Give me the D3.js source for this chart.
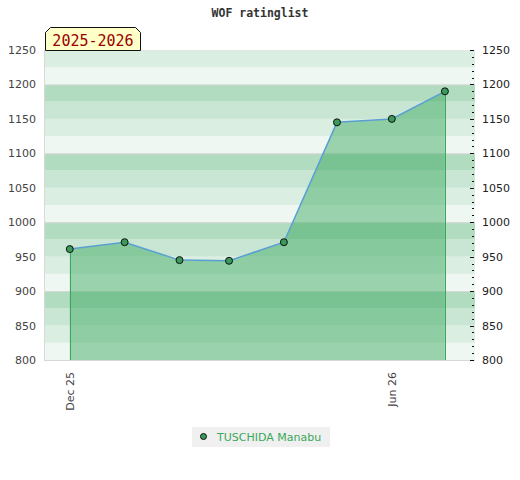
<!DOCTYPE html>
<html><head><meta charset="utf-8">
<script src="https://cdn.jsdelivr.net/npm/d3@7"></script>
<style>body{margin:0;background:#fff}svg{display:block}</style>
</head><body>
<svg id="c" width="520" height="480"></svg>
<script>
const title = "WOF ratinglist";
const seasonLabel = "2025-2026";
const playerName = "TUSCHIDA Manabu";
const dates = ["2025-12-01","2026-01-01","2026-02-01","2026-03-01","2026-04-01","2026-05-01","2026-06-01","2026-07-01"];
const ratings = [961, 971, 945, 944, 971, 1145, 1150, 1190];
const yTicks = [800, 850, 900, 950, 1000, 1050, 1100, 1150, 1200, 1250];
const xTickDates = ["2025-12-01", "2026-06-01"];
const xTickLabels = ["Dec 25", "Jun 26"];

const parse = d3.utcParse("%Y-%m-%d");
const data = dates.map((d, i) => ({date: parse(d), value: ratings[i]}));

const svg = d3.select("#c");
const L = 45, R = 475, T = 50, B = 360;
const x = d3.scaleUtc().domain([parse("2025-11-17"), parse("2026-07-18")]).range([L, R]);
const y = d3.scaleLinear().domain([800, 1250]).range([B, T]);

// bands
const bandColors = ["#b1dcbf", "#c8e6d3", "#daeee2", "#eff7f3"];
const bands = d3.range(800, 1250, 25);
svg.append("g").selectAll("rect").data(bands).join("rect")
  .attr("x", L).attr("width", R - L)
  .attr("y", d => y(d + 25)).attr("height", d => y(d) - y(d + 25))
  .attr("fill", d => {
    const k = ((d + 25) % 100);
    const idx = k === 0 ? 0 : k === 75 ? 1 : k === 50 ? 2 : 3;
    return bandColors[idx];
  });
svg.append("g").selectAll("line").data([900, 1000, 1100, 1200]).join("line")
  .attr("x1", L).attr("x2", R).attr("y1", d => y(d) + 0.5).attr("y2", d => y(d) + 0.5)
  .attr("stroke", "#d8d8d8").attr("stroke-width", 1);

// area
const area = d3.area().x(d => x(d.date)).y0(B).y1(d => y(d.value));
svg.append("path").datum(data).attr("d", area).attr("fill", "rgba(48,165,86,0.44)");
const ends = [data[0], data[data.length - 1]];
svg.append("g").selectAll("line").data(ends).join("line")
  .attr("x1", d => Math.round(x(d.date)) + 0.5).attr("x2", d => Math.round(x(d.date)) + 0.5)
  .attr("y1", d => y(d.value)).attr("y2", B)
  .attr("stroke", "#3aa85a").attr("stroke-width", 1);
const line = d3.line().x(d => x(d.date)).y(d => y(d.value));
svg.append("path").datum(data).attr("d", line).attr("fill", "none")
  .attr("stroke", "#5a9fd4").attr("stroke-width", 1.5);
svg.append("g").selectAll("circle").data(data).join("circle")
  .attr("cx", d => x(d.date)).attr("cy", d => y(d.value)).attr("r", 3.5)
  .attr("fill", "#3a9a5a").attr("stroke", "#111").attr("stroke-width", 1);

// plot frame
svg.append("line").attr("x1", L - 0.5).attr("x2", L - 0.5).attr("y1", T).attr("y2", B + 1)
  .attr("stroke", "#d8d8d8");
svg.append("line").attr("x1", L - 1).attr("x2", R).attr("y1", B + 0.5).attr("y2", B + 0.5)
  .attr("stroke", "#d8d8d8");
svg.append("line").attr("x1", L).attr("x2", R).attr("y1", T + 0.5).attr("y2", T + 0.5)
  .attr("stroke", "#e4e4e4");

const fmt = d3.format("d");
const gl = svg.append("g").attr("transform", `translate(${L},0)`)
  .call(d3.axisLeft(y).tickValues(yTicks).tickFormat(fmt).tickSize(0).tickPadding(9));
gl.select(".domain").remove();
gl.selectAll("text").attr("font-family", "DejaVu Sans").attr("font-size", "11px").attr("fill", "#444");

const gr = svg.append("g").attr("transform", `translate(${R},0)`)
  .call(d3.axisRight(y).tickValues(yTicks).tickFormat(fmt).tickSize(0).tickPadding(7));
gr.select(".domain").remove();
gr.selectAll("text").attr("font-family", "DejaVu Sans").attr("font-size", "11px").attr("fill", "#222");
const minor = d3.range(800, 1251, 10);
svg.append("g").selectAll("line").data(minor).join("line")
  .attr("x1", d => d % 50 === 0 ? R - 5 : R - 3).attr("x2", R - 1)
  .attr("y1", d => Math.round(y(d)) + 0.5).attr("y2", d => Math.round(y(d)) + 0.5)
  .attr("stroke", "#111").attr("stroke-width", 1);

const gx = svg.append("g");
xTickDates.forEach((d, i) => {
  const xx = x(parse(d));
  gx.append("text").attr("transform", `translate(${xx + 4},${B + 12}) rotate(-90)`)
    .attr("text-anchor", "end").attr("font-family", "DejaVu Sans").attr("font-size", "11px")
    .attr("fill", "#444").text(xTickLabels[i]);
});

svg.append("text").attr("x", 260).attr("y", 17).attr("text-anchor", "middle")
  .attr("font-family", "DejaVu Sans Mono").attr("font-weight", "bold").attr("font-size", "11.5px")
  .attr("fill", "#333").text(title);

const tx0 = 45.5, tx1 = 140.5, ty0 = 27.5, ty1 = 50.5, bv = 5;
svg.append("path")
  .attr("d", `M${tx0},${ty1}L${tx0},${ty0 + bv}L${tx0 + bv},${ty0}L${tx1 - bv},${ty0}L${tx1},${ty0 + bv}L${tx1},${ty1}Z`)
  .attr("fill", "#ffffc8").attr("stroke", "#111").attr("stroke-width", 1);
svg.append("text").attr("x", 93).attr("y", 46).attr("text-anchor", "middle")
  .attr("font-family", "DejaVu Sans Mono").attr("font-size", "15px").attr("fill", "#990000")
  .text(seasonLabel);

const lg = svg.append("g");
lg.append("rect").attr("x", 192).attr("y", 427).attr("width", 138).attr("height", 20).attr("fill", "#f0f0f0");
lg.append("circle").attr("cx", 203.5).attr("cy", 436.5).attr("r", 3).attr("fill", "#3a9a5a").attr("stroke", "#111");
lg.append("text").attr("x", 217).attr("y", 441).attr("font-family", "DejaVu Sans").attr("font-size", "11px")
  .attr("fill", "#3aa85a").text(playerName);
</script>
</body></html>
